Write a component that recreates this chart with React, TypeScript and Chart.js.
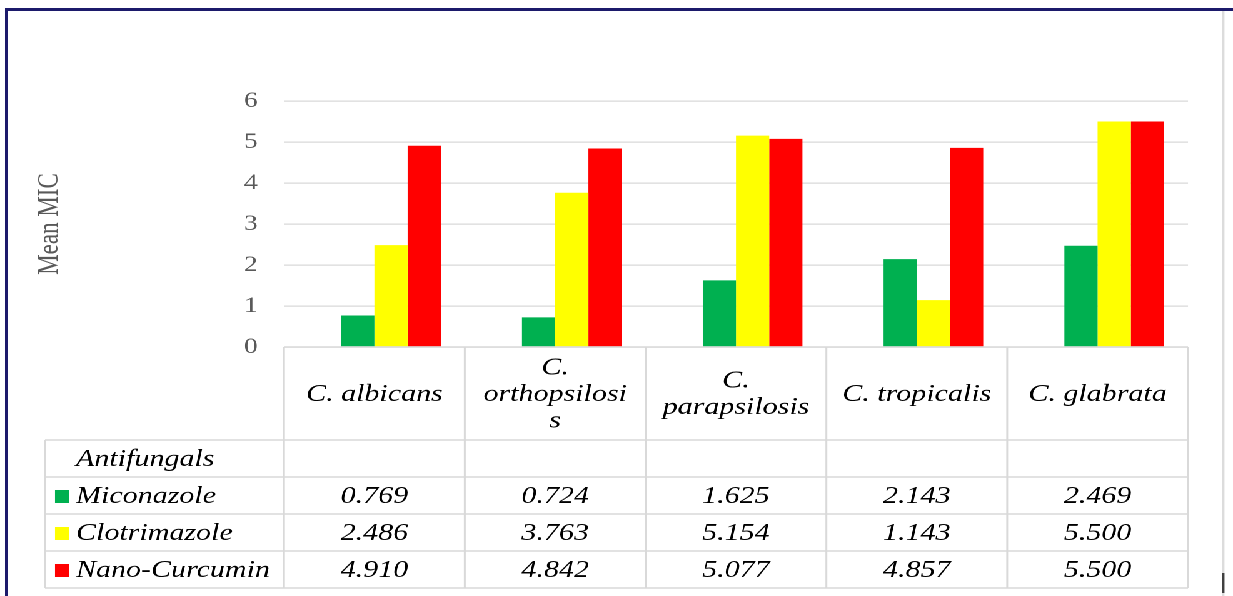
import React, { useEffect, useRef } from "react";
import { Chart, registerables } from "chart.js";

Chart.register(...registerables);

// ---- data ----
const categories = ["C. albicans", "C. orthopsilosis", "C. parapsilosis", "C. tropicalis", "C. glabrata"];
const headerLines = [["C. albicans"], ["C.", "orthopsilosi", "s"], ["C.", "parapsilosis"], ["C. tropicalis"], ["C. glabrata"]];
const seriesNames = ["Antifungals", "Miconazole", "Clotrimazole", "Nano-Curcumin"];
const antifungals: (number | null)[] = [null, null, null, null, null];
const miconazole = [0.769, 0.724, 1.625, 2.143, 2.469];
const clotrimazole = [2.486, 3.763, 5.154, 1.143, 5.5];
const nanoCurcumin = [4.91, 4.842, 5.077, 4.857, 5.5];
const seriesColors = ["rgba(0,0,0,0)", "#00B050", "#FFFF00", "#FF0000"];
const yMin = 0;
const yMax = 6;
const yStep = 1;
const yTitle = "Mean MIC";

// ---- layout ----
const FULL_W = 1233;
const FULL_H = 596;
const CW = 986;
const S = FULL_W / CW;
const X = (v: number) => v / S;

const FONT = '"Liberation Serif", "Times New Roman", serif';

const tablePlugin = {
  id: "dataTable",
  beforeDraw(chart: any) {
    const ctx = chart.ctx;
    ctx.save();
    ctx.fillStyle = "#fff";
    ctx.fillRect(0, 0, chart.width, chart.height);
    ctx.restore();
  },
  afterDraw(chart: any) {
    const ctx: CanvasRenderingContext2D = chart.ctx;
    const xs = chart.scales.x;
    const ca = chart.chartArea;
    const n = categories.length;
    const cw = (ca.right - ca.left) / n;
    const edges: number[] = [];
    for (let i = 0; i < n; i++) edges.push(xs.getPixelForValue(i) - cw / 2);
    edges.push(xs.getPixelForValue(n - 1) + cw / 2);

    const top = ca.bottom;
    const headerBottom = top + 93;
    const rowH = 37;
    const rowsData = [antifungals, miconazole, clotrimazole, nanoCurcumin];
    const lineYs = [headerBottom];
    for (let r = 0; r < rowsData.length; r++) lineYs.push(headerBottom + rowH * (r + 1));
    const lastY = lineYs[lineYs.length - 1];
    const tableLeft = X(45);

    ctx.save();
    ctx.strokeStyle = "#d9d9d9";
    ctx.lineWidth = 1.5;
    const line = (x1: number, y1: number, x2: number, y2: number) => {
      ctx.beginPath();
      ctx.moveTo(x1, y1);
      ctx.lineTo(x2, y2);
      ctx.stroke();
    };
    line(edges[0], top, edges[n], top);
    lineYs.forEach((y) => line(tableLeft, y, edges[n], y));
    edges.forEach((x) => line(x, top, x, lastY));
    line(tableLeft, headerBottom, tableLeft, lastY);

    ctx.fillStyle = "#000";
    ctx.font = `italic 24px ${FONT}`;
    ctx.textAlign = "center";
    ctx.textBaseline = "middle";
    const hc = (top + headerBottom) / 2;
    headerLines.forEach((lines, i) => {
      const cx = xs.getPixelForValue(i);
      lines.forEach((t, j) => {
        ctx.fillText(t, cx, hc + (j - (lines.length - 1) / 2) * 26.5 + 1);
      });
    });

    rowsData.forEach((vals, r) => {
      const cy = headerBottom + rowH * r + rowH / 2 + 1;
      // legend key
      if (r > 0) {
        ctx.fillStyle = seriesColors[r];
        ctx.fillRect(X(55), cy - 6.5, X(14), 13);
      }
      ctx.fillStyle = "#000";
      ctx.textAlign = "left";
      ctx.fillText(seriesNames[r], X(76), cy);
      ctx.textAlign = "center";
      vals.forEach((v, i) => {
        if (v == null) return;
        ctx.fillText(v.toFixed(3), xs.getPixelForValue(i), cy);
      });
    });

    // frame
    ctx.fillStyle = "#1c1a6b";
    ctx.fillRect(X(5), 8, chart.width, 3);
    ctx.fillRect(X(5), 8, X(3), chart.height);
    ctx.fillStyle = "#dcdcdc";
    ctx.fillRect(X(1222), 11, X(2.5), chart.height);
    ctx.fillStyle = "#404040";
    ctx.fillRect(X(1222), 573, X(2.5), 20);
    ctx.restore();
  },
};

export default function App() {
  const ref = useRef<HTMLCanvasElement | null>(null);
  useEffect(() => {
    if (!ref.current) return;
    const chart = new Chart(ref.current, {
      type: "bar",
      data: {
        labels: categories,
        datasets: [
          { label: seriesNames[0], data: antifungals, backgroundColor: seriesColors[0] },
          { label: seriesNames[1], data: miconazole, backgroundColor: seriesColors[1] },
          { label: seriesNames[2], data: clotrimazole, backgroundColor: seriesColors[2] },
          { label: seriesNames[3], data: nanoCurcumin, backgroundColor: seriesColors[3] },
        ] as any,
      },
      options: {
        animation: false,
        responsive: true,
        maintainAspectRatio: false,
        devicePixelRatio: 2,
        layout: { padding: { left: 0, top: 101, right: X(FULL_W - 1188), bottom: FULL_H - 347 } },
        datasets: { bar: { categoryPercentage: 0.735, barPercentage: 1.0, borderWidth: 0 } },
        plugins: { legend: { display: false }, tooltip: { enabled: false }, title: { display: false } },
        scales: {
          x: { display: false },
          y: {
            min: yMin,
            max: yMax,
            ticks: { stepSize: yStep, padding: 21, color: "#595959", font: { family: FONT, size: 22 } },
            grid: { color: "#d9d9d9", lineWidth: 1.3, drawTicks: false },
            border: { display: false },
            title: {
              display: true,
              text: yTitle,
              color: "#595959",
              font: { family: FONT, size: 23 },
              padding: { top: 26, bottom: 0 },
            },
            afterFit: (scale: any) => {
              scale.width = X(284);
            },
          },
        },
      } as any,
      plugins: [tablePlugin],
    });
    return () => chart.destroy();
  }, []);
  return (
    <div
      style={{
        position: "fixed",
        left: 0,
        top: 0,
        width: CW,
        height: FULL_H,
        transform: `scaleX(${S})`,
        transformOrigin: "0 0",
        background: "#fff",
      }}
    >
      <canvas ref={ref} />
    </div>
  );
}
